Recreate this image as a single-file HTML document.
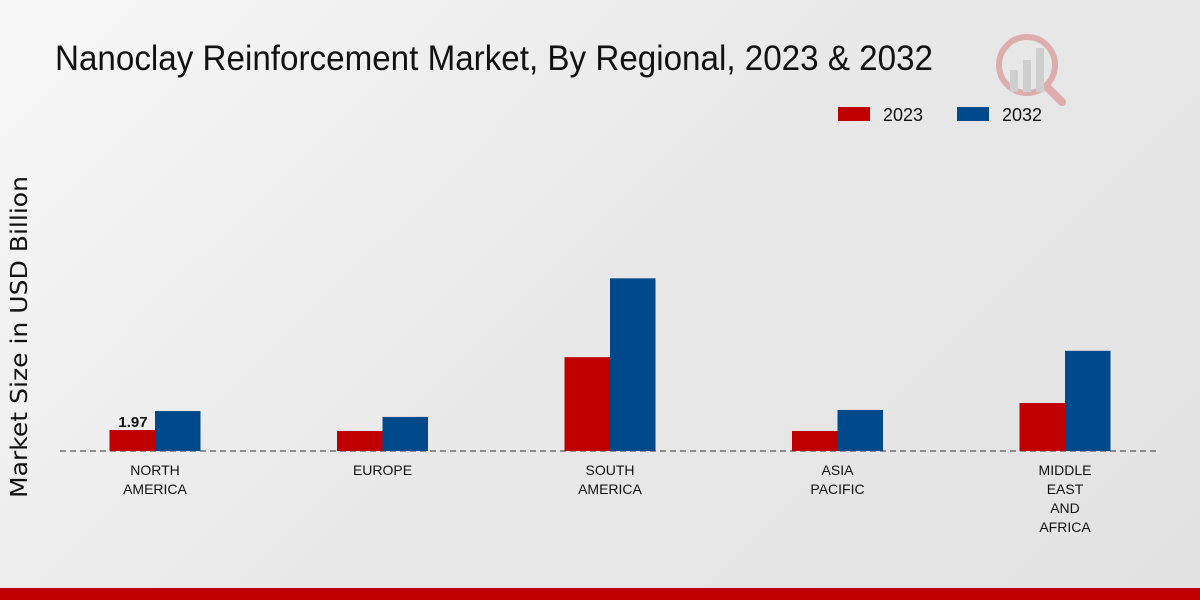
<!DOCTYPE html>
<html><head><meta charset="utf-8"><style>
body{margin:0;width:1200px;height:600px;overflow:hidden;font-family:"Liberation Sans",sans-serif;}
#bg{position:absolute;left:0;top:0;width:1200px;height:600px;background:linear-gradient(135deg,#f7f7f7 0%,#e8e8e8 50%,#e2e2e2 100%);}
</style></head><body>
<div id="bg"></div>
<svg id="chart" width="1200" height="600" style="position:absolute;left:0;top:0">
<text x="55" y="70" font-size="35" fill="#111" font-family="Liberation Sans Narrow, Liberation Sans, sans-serif" textLength="878" lengthAdjust="spacingAndGlyphs">Nanoclay Reinforcement Market, By Regional, 2023 &amp; 2032</text>
<text transform="translate(27,337) rotate(-90)" text-anchor="middle" font-size="23" fill="#111" font-family="DejaVu Sans, sans-serif" textLength="322" lengthAdjust="spacingAndGlyphs">Market Size in USD Billion</text>
<g>
<rect x="838" y="107" width="32" height="14" fill="#c00000"/>
<text x="883" y="121" font-size="18" fill="#111">2023</text>
<rect x="957" y="107" width="32" height="14" fill="#004a8c"/>
<text x="1002" y="121" font-size="18" fill="#111">2032</text>
</g>
<g opacity="0.25">
<circle cx="1027" cy="65" r="28" fill="none" stroke="#c00000" stroke-width="6"/>
<rect x="1010" y="70" width="8" height="22" fill="#888"/><rect x="1023" y="60" width="8" height="32" fill="#888"/><rect x="1036" y="48" width="8" height="44" fill="#888"/>
<line x1="1048" y1="88" x2="1062" y2="102" stroke="#c00000" stroke-width="8" stroke-linecap="round"/>
</g>
<line x1="60" y1="451" x2="1160" y2="451" stroke="#333" stroke-dasharray="6,4"/>
<g id="bars"></g>
<rect x="0" y="588" width="1200" height="12" fill="#c00000"/>
</svg>
<script>
const categories=[["NORTH","AMERICA"],["EUROPE"],["SOUTH","AMERICA"],["ASIA","PACIFIC"],["MIDDLE","EAST","AND","AFRICA"]];
const values2023=[1.97,1.88,8.8,1.88,4.5];
const values2032=[3.75,3.2,16.2,3.85,9.4];
const ns="http://www.w3.org/2000/svg";
const g=document.getElementById('bars');
const baseY=451,scale=10.66;
function xc(i){return 155+i*227.5;}
function yv(v){return baseY-v*scale;}
function rect(x,v,color,name){const r=document.createElementNS(ns,'rect');r.setAttribute('x',x);r.setAttribute('y',yv(v));r.setAttribute('width',45.5);r.setAttribute('height',baseY-yv(v));r.setAttribute('fill',color);


g.appendChild(r);}
categories.forEach((c,i)=>{
rect(xc(i)-45.5,values2023[i],'#c00000','bar-2023-'+i);
rect(xc(i),values2032[i],'#004a8c','bar-2032-'+i);
c.forEach((line,j)=>{const t=document.createElementNS(ns,'text');t.setAttribute('x',xc(i));t.setAttribute('y',475+j*19);t.setAttribute('text-anchor','middle');t.setAttribute('font-size','14');t.setAttribute('fill','#111');t.setAttribute('font-family','Liberation Sans Narrow, Liberation Sans, sans-serif');t.textContent=line;


g.appendChild(t);});
});
const lbl=document.createElementNS(ns,'text');lbl.setAttribute('x',xc(0)-22);lbl.setAttribute('y',yv(values2023[0])-3);lbl.setAttribute('text-anchor','middle');lbl.setAttribute('font-size','15');lbl.setAttribute('font-weight','bold');lbl.setAttribute('fill','#111');lbl.textContent=values2023[0].toFixed(2);


g.appendChild(lbl);
</script>
</body></html>
